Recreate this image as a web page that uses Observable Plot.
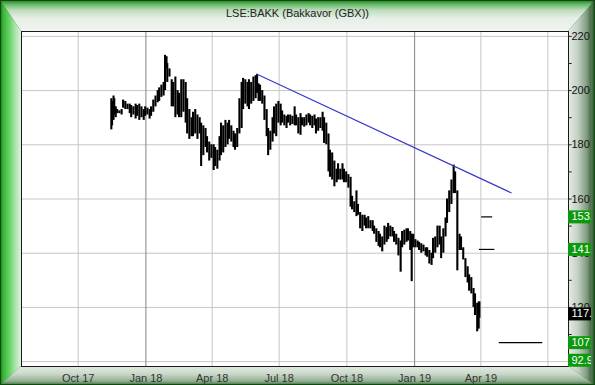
<!DOCTYPE html>
<html><head><meta charset="utf-8">
<script src="https://cdn.jsdelivr.net/npm/d3@7"></script>
<script src="https://cdn.jsdelivr.net/npm/@observablehq/plot@0.6"></script>
<style>
html,body{margin:0;padding:0;background:#fff}
#wrap{position:relative;width:595px;height:385px;overflow:hidden;font-family:"Liberation Sans",Arial,sans-serif;background:#1c6a1c}
.b{position:absolute;left:0;top:0;width:595px;height:385px}
#ftop{clip-path:polygon(0 0,595px 0,568px 31px,21px 31px);background:linear-gradient(to bottom,#1f7a1f 0px,#5fb65f 4px,#bcdcbc 10px,#e6eee6 18px,#f1f4f1 31px)}
#fleft{clip-path:polygon(0 0,21px 31px,21px 366px,0 385px);background:linear-gradient(to right,#187018 0px,#35b535 3px,#63d063 9px,#a8e4a8 15px,#def2de 21px)}
#fbottom{clip-path:polygon(0 385px,21px 366px,568px 366px,595px 385px);background:linear-gradient(to bottom,#e3ebe3 366px,#c9d8c9 374px,#94b094 381px,#3f6e3f 385px)}
#fright{clip-path:polygon(595px 0,568px 31px,568px 366px,595px 385px);background:linear-gradient(to right,#e6ece6 568px,#c3d0c3 578px,#7f9a7f 587px,#3a5e3a 592px,#1d4a1d 595px)}
#edge{pointer-events:none;box-shadow:inset 0 0 0 1px #0e4a0e}
#redge{position:absolute;left:591px;top:0;width:4px;height:385px;background:linear-gradient(to right,#5a7d5a,#1d4a1d);pointer-events:none}
#title{position:absolute;left:0;top:7px;width:595px;text-align:center;font-size:11px;color:#222}
#chart{position:absolute;left:0;top:0}
</style></head><body>
<div id="wrap">
 <div class="b" id="ftop"></div>
 <div class="b" id="fleft"></div>
 <div class="b" id="fbottom"></div>
 <div class="b" id="fright"></div>
 <div id="title"></div>
 <div id="chart"></div>
 <div id="redge"></div>
 <div class="b" id="edge"></div>
</div>
<script>
const title = "LSE:BAKK (Bakkavor (GBX))";

const dates = ["2017-11-15","2017-11-16","2017-11-18","2017-11-19","2017-11-21","2017-11-23","2017-11-26","2017-11-29","2017-12-01","2017-12-04","2017-12-07","2017-12-10","2017-12-12","2017-12-15","2017-12-18","2017-12-20","2017-12-23","2017-12-26","2017-12-29","2017-12-31",
"2018-01-03","2018-01-06","2018-01-08","2018-01-11","2018-01-14","2018-01-17","2018-01-19","2018-01-22","2018-01-25","2018-01-27","2018-01-29","2018-01-30","2018-02-02","2018-02-05","2018-02-07","2018-02-10","2018-02-13","2018-02-15","2018-02-18","2018-02-21","2018-02-24","2018-02-26",
"2018-03-01","2018-03-04","2018-03-06","2018-03-09","2018-03-12","2018-03-15","2018-03-17","2018-03-20","2018-03-23","2018-03-25","2018-03-28","2018-03-31","2018-04-03","2018-04-05","2018-04-08","2018-04-11","2018-04-13","2018-04-16","2018-04-19","2018-04-22","2018-04-24","2018-04-27","2018-04-30",
"2018-05-02","2018-05-05","2018-05-08","2018-05-11","2018-05-13","2018-05-16","2018-05-19","2018-05-21","2018-05-24","2018-05-27","2018-05-30","2018-06-01","2018-06-03","2018-06-05","2018-06-08","2018-06-11","2018-06-14","2018-06-16","2018-06-19","2018-06-22","2018-06-24","2018-06-27","2018-06-30",
"2018-07-03","2018-07-05","2018-07-08","2018-07-11","2018-07-13","2018-07-16","2018-07-19","2018-07-22","2018-07-24","2018-07-27","2018-07-30","2018-08-01","2018-08-04","2018-08-07","2018-08-10","2018-08-12","2018-08-15","2018-08-18","2018-08-20","2018-08-23","2018-08-26","2018-08-29","2018-08-31",
"2018-09-03","2018-09-06","2018-09-08","2018-09-11","2018-09-14","2018-09-17","2018-09-19","2018-09-22","2018-09-25","2018-09-27","2018-09-30","2018-10-03","2018-10-06","2018-10-08","2018-10-11","2018-10-14","2018-10-16","2018-10-19","2018-10-22","2018-10-25","2018-10-27","2018-10-30",
"2018-11-02","2018-11-05","2018-11-07","2018-11-10","2018-11-13","2018-11-15","2018-11-18","2018-11-21","2018-11-24","2018-11-26","2018-11-29","2018-12-02","2018-12-04","2018-12-07","2018-12-10","2018-12-13","2018-12-15","2018-12-18","2018-12-21","2018-12-23","2018-12-26","2018-12-28","2018-12-30",
"2019-01-02","2019-01-05","2019-01-07","2019-01-10","2019-01-13","2019-01-16","2019-01-18","2019-01-21","2019-01-24","2019-01-26","2019-01-29","2019-02-01","2019-02-04","2019-02-06","2019-02-09","2019-02-12","2019-02-14","2019-02-17","2019-02-20","2019-02-23","2019-02-25","2019-02-28",
"2019-03-03","2019-03-05","2019-03-08","2019-03-11","2019-03-14","2019-03-16","2019-03-19","2019-03-22","2019-03-24","2019-03-27","2019-03-29","2019-03-30"];

const lows = [185.5,187,189,191,190,191.5,191.5,191,193.5,193,193,191.5,190,191,189.5,190.5,189,190,189,190.5,
191,189.5,190.5,192,194,195.5,196,197.5,198,200,208,203,205,194,194,190,191,190,190,192,188,184,
182,183,183,184,182,184,172,176,179,177,174,175,170.5,172,171,174,176,177,179,180,182,181,179,
178,179,184,186,193,195,194,193,195,196,197,199,196,196,195,189,183,176,178,181,184,183,188,
187,188,187,186,188,187,187.5,187,187,184,183.5,187,186.5,187,188,187,186,187,184,185,186,185,180.5,
180,170,168,167,164.5,166,167,167,167,166,166,164,157,156,155,153.5,154,149,148,150,149,149,
149,148,147,144,142.5,142,140.5,143,144,145,146,146,144,143,139,133,142,143,144,144.5,141,129.5,142,
142,142,141,140,140.5,139,138.5,136,135.5,138,140,142,143,138,140,146,151,155,158,162,162,133.5,
141,141,137.5,131,129,126,125,120,117,111,112,116];

const highs = [197,196,198,197,194,193,192.5,193,196.5,196,195,195,194.5,194,195,194.5,195,194,193,194,
193.5,193,194,196.5,198,200,201,202,203,213,212.5,210,208,204,203,205,200,199,204,204,203,197,
193,190,192,193,191,190,188,187,186,183,181,180,180,179,178,183,188,187,189,188,189,187,185,
184,186,197,203,204.5,204,203,204,203,205,205.5,206,202.5,202,200,198,193,186,185,190,194,195,196,
195,192.5,191,190.5,191,191,190.5,194,191,190,191.5,190,190,191,191.5,191,190.5,191,189.5,190,190,192,190,
188,184,178,177,174,171,173,171,173,171,170,169,168,161,159,163,158,155,154,154,153,153.5,
152,152,150,149,148,147,146,150,149.5,151,150,149.5,148,147,145.5,144.5,148,148.5,149,149,148,147,147,
145,144.5,144,143.5,143,142,142,141,140,145.5,146,150,150,146,149,153,160,163,167,172.5,170,163,
147,146,142,138,135,132,131,127,125,121.5,122,122];

const trendDates = ["2018-06-01","2019-05-12"];
const trendValues = [206, 162.3];

const targetValues = [153.4, 141.4, 107.0];
const targetStarts = ["2019-04-02","2019-03-30","2019-04-26"];
const targetEnds = ["2019-04-17","2019-04-20","2019-06-24"];

const yGrid = [100,120,140,160,180,200,220];
const yTicks = [100,110,120,130,140,150,160,170,180,190,200,210,220];
const yLabels = [220,200,180,160,140,120,100];
const xGrid = ["2017-10-01","2018-01-01","2018-04-01","2018-07-01","2018-10-01","2019-01-01","2019-04-01","2019-07-01"];
const xLabels = ["Oct 17","Jan 18","Apr 18","Jul 18","Oct 18","Jan 19","Apr 19"];

const greenLabelValues = [153.4, 141.4, 107.0, 92.94];
const greenLabelTexts = ["153.4","141.4","107.0","92.94"];
const lastValue = 117.6;
const lastText = "117.6";

document.getElementById("title").textContent = title;

const xDomain = [new Date("2017-07-16"), new Date("2019-07-29")];
const yDomain = [98.2, 221.8];
const xEnd = xDomain[1];
const xTickEnd = new Date("2019-08-03");
const xFar = new Date("2019-09-10");

const bars = dates.map((d, i) => ({date: new Date(d), low: lows[i], high: highs[i]}));
const trend = trendDates.map((d, i) => ({date: new Date(d), value: trendValues[i]}));
const targets = targetValues.map((v, i) => ({value: v, start: new Date(targetStarts[i]), end: new Date(targetEnds[i])}));
const gridDates = xGrid.map(d => new Date(d));
const janGrid = gridDates.filter(d => d.getUTCMonth() === 0);
const otherGrid = gridDates.filter(d => d.getUTCMonth() !== 0);
const xLab = xLabels.map((t, i) => ({date: gridDates[i], text: t}));
const clampY = v => Math.max(v, yDomain[0] + 2.3);
const greenLabels = greenLabelValues.map((v, i) => ({value: clampY(v), text: greenLabelTexts[i]}));
const blackLabels = [{value: lastValue, text: lastText}];

const chart = Plot.plot({
  width: 595, height: 385,
  marginLeft: 21, marginRight: 27, marginTop: 31, marginBottom: 19,
  style: {background: "transparent", fontFamily: "'Liberation Sans', Arial, sans-serif", fontSize: "11px", overflow: "visible"},
  x: {type: "utc", domain: xDomain, axis: null},
  y: {domain: yDomain, axis: null},
  marks: [
    Plot.frame({fill: "white"}),
    Plot.ruleY(yGrid, {y: d => d, stroke: "#c6c6c6", strokeWidth: 1}),
    Plot.ruleX(otherGrid, {x: d => d, stroke: "#c6c6c6", strokeWidth: 1}),
    Plot.ruleX(janGrid, {x: d => d, stroke: "#858585", strokeWidth: 1}),
    Plot.ruleX(bars, {x: "date", y1: "low", y2: "high", stroke: "#000", strokeWidth: 2.1}),
    Plot.line(trend, {x: "date", y: "value", stroke: "#3a3ac8", strokeWidth: 1.2}),
    Plot.ruleY(targets, {y: "value", x1: "start", x2: "end", stroke: "#000", strokeWidth: 1.2}),
    Plot.frame({stroke: "#1a1a1a", strokeWidth: 1}),
    Plot.ruleY(yTicks, {y: d => d, x1: () => xEnd, x2: () => xTickEnd, stroke: "#222"}),
    Plot.text(yLabels, {x: () => xEnd, y: d => d, text: d => String(d), dx: 3, textAnchor: "start", fill: "#111"}),
    Plot.text(xLab, {x: "date", y: () => yDomain[0], text: "text", dy: 12, fill: "#333"}),
    Plot.ruleY(greenLabels, {y: "value", x1: () => xEnd, x2: () => xFar, stroke: "#0b9a0b", strokeWidth: 13}),
    Plot.text(greenLabels, {x: () => xEnd, y: "value", text: "text", dx: 3, textAnchor: "start", fill: "white"}),
    Plot.ruleY(blackLabels, {y: "value", x1: () => xEnd, x2: () => xFar, stroke: "#000", strokeWidth: 13}),
    Plot.text(blackLabels, {x: () => xEnd, y: "value", text: "text", dx: 3, textAnchor: "start", fill: "white"})
  ]
});
document.getElementById("chart").appendChild(chart);
</script>
</body></html>
